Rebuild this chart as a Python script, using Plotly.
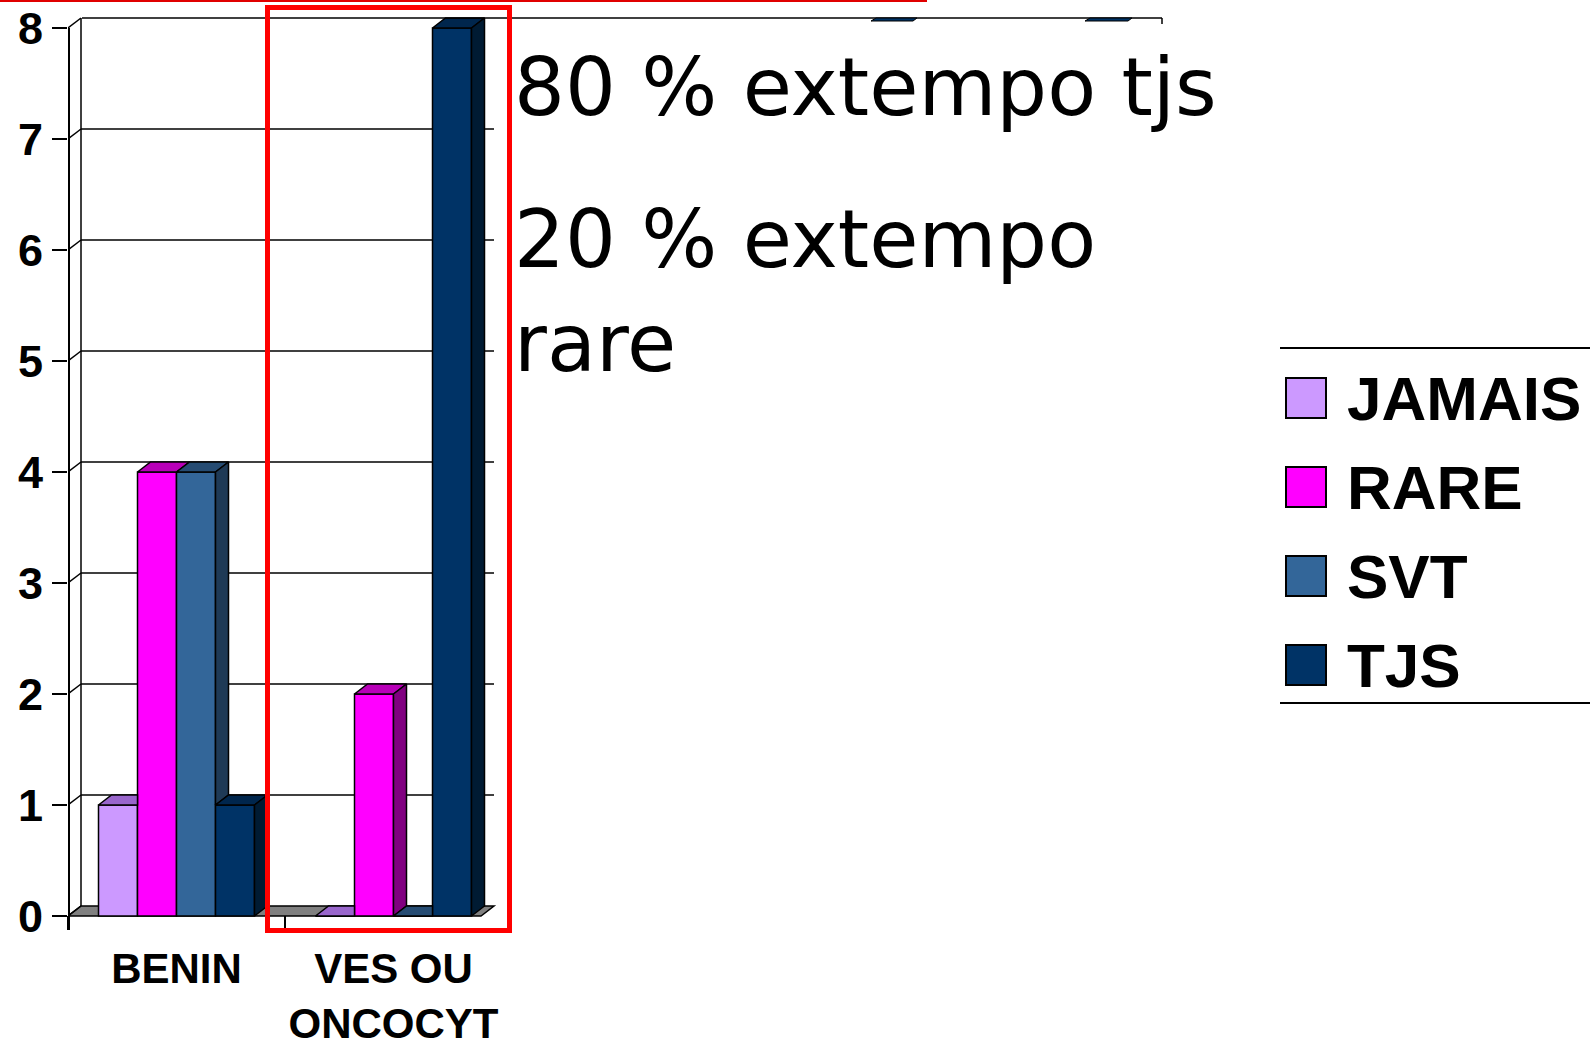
import plotly.graph_objects as go

# ---- data ----
categories = ["BENIN", "VES OU<br>ONCOCYT"]
series_names = ["JAMAIS", "RARE", "SVT", "TJS"]
jamais = [1, 0]
rare = [4, 2]
svt = [4, 0]
tjs = [1, 8]
y_ticks = [0, 1, 2, 3, 4, 5, 6, 7, 8]

note_tjs = "80 % extempo tjs"
note_rare = "20 % extempo<br>rare"

# colours per series: front face, top face, side face
front_colors = ["#CC99FF", "#FF00FF", "#336699", "#003366"]
top_colors = ["#9966CC", "#B800B8", "#264C73", "#00264D"]
side_colors = ["#664C88", "#800080", "#1F3A56", "#001B33"]

values = [jamais, rare, svt, tjs]

# ---- geometry (pixels of the 1590x1042 page) ----
W, H = 1590, 1042
L, R, T, B = 68, 520, 12, 930          # plot area
X_UNIT, Y_UNIT = 217.0, 111.0          # pixels per category / per unit
Y0_PX = 916                            # pixel row of value 0 (front)


def xd(px):
    return -0.5 + (px - L) / X_UNIT


def yd(py):
    return (Y0_PX - py) / Y_UNIT


def xp(px):
    return (px - L) / (R - L)


def yp(py):
    return (B - py) / (B - T)


DX = 13 / X_UNIT      # 3d depth, horizontal
DY = 10 / Y_UNIT      # 3d depth, vertical
BW = 39 / X_UNIT      # bar width
BACK_END = xd(494)    # right end of back wall
FLOOR_END = BACK_END - DX

fig = go.Figure()

# front faces
for j, name in enumerate(series_names):
    xs = [i + (j - 1.5) * BW for i in range(len(categories))]
    fig.add_trace(go.Bar(
        x=xs, y=values[j], width=BW, name=name,
        marker=dict(color=front_colors[j], line=dict(color="black", width=1.5)),
        showlegend=False, hoverinfo="skip",
    ))

# top and side faces (clipped where the next bar hides them)
for j in range(len(series_names)):
    tx, ty, sx, sy = [], [], [], []
    for i in range(len(categories)):
        h = values[j][i]
        c = i + (j - 1.5) * BW
        l, r = c - BW / 2, c + BW / 2
        h_next = values[j + 1][i] if j + 1 < len(series_names) else 0
        if j + 1 < len(series_names) and h_next > h:
            tx += [l, r, r, l + DX, l, None]
        else:
            tx += [l, r, r + DX, l + DX, l, None]
        ty += [h, h, h + DY, h + DY, h, None]
        if h > h_next or (j + 1 == len(series_names) and h > 0):
            sx += [r, r + DX, r + DX, r, r, None]
            sy += [h_next, h_next + DY, h + DY, h, h_next, None]
    fig.add_trace(go.Scatter(
        x=tx, y=ty, mode="lines", fill="toself", fillcolor=top_colors[j],
        line=dict(color="black", width=1.5), showlegend=False, hoverinfo="skip",
    ))
    if sx:
        fig.add_trace(go.Scatter(
            x=sx, y=sy, mode="lines", fill="toself", fillcolor=side_colors[j],
            line=dict(color="black", width=1.5), showlegend=False, hoverinfo="skip",
        ))

shapes = []
wall = dict(color="black", width=1.5)

# floor
shapes.append(dict(
    type="path", xref="x", yref="y", layer="below",
    path=f"M{-0.5},0 L{FLOOR_END},0 L{BACK_END},{DY} L{-0.5 + DX},{DY} Z",
    fillcolor="#808080", line=wall,
))
# back wall gridlines, left wall edges
for v in y_ticks:
    shapes.append(dict(type="line", xref="x", yref="y", layer="below",
                       x0=-0.5, y0=v, x1=-0.5 + DX, y1=v + DY, line=wall))
    if 0 < v < max(y_ticks):
        shapes.append(dict(type="line", xref="x", yref="y", layer="below",
                           x0=-0.5 + DX, y0=v + DY, x1=BACK_END, y1=v + DY, line=wall))
shapes.append(dict(type="line", xref="x", yref="y", layer="below",
                   x0=-0.5 + DX, y0=DY, x1=-0.5 + DX, y1=max(y_ticks) + DY, line=wall))
# front value axis line
shapes.append(dict(type="line", xref="x", yref="y", layer="above",
                   x0=-0.5 + 1 / X_UNIT, y0=yd(B), x1=-0.5 + 1 / X_UNIT, y1=max(y_ticks),
                   line=dict(color="black", width=2)))

# top gridline runs on past the chart on the slide
top_py = Y0_PX - (max(y_ticks) + DY) * Y_UNIT
shapes.append(dict(type="line", xref="paper", yref="paper",
                   x0=xp(82), y0=yp(top_py), x1=xp(1162), y1=yp(top_py), line=wall))
shapes.append(dict(type="line", xref="paper", yref="paper",
                   x0=xp(1162), y0=yp(top_py), x1=xp(1162), y1=yp(top_py + 6), line=wall))
for a, b in [(871, 917), (1085, 1132)]:
    shapes.append(dict(
        type="path", xref="paper", yref="paper",
        path=(f"M{xp(a)},{yp(21)} L{xp(b - 4)},{yp(21)} "
              f"L{xp(b)},{yp(top_py)} L{xp(a + 5)},{yp(top_py)} Z"),
        fillcolor="#003366", line=dict(color="black", width=1),
    ))

# red highlight box and red rule at the very top
shapes.append(dict(type="rect", xref="paper", yref="paper",
                   x0=xp(267.5), x1=xp(509.5), y0=yp(7.5), y1=yp(930.5),
                   line=dict(color="#FF0000", width=5)))
shapes.append(dict(type="line", xref="paper", yref="paper",
                   x0=xp(0), x1=xp(927), y0=yp(1), y1=yp(1),
                   line=dict(color="#E00000", width=2)))

# legend built by hand (big swatches)
shapes.append(dict(type="line", xref="paper", yref="paper",
                   x0=xp(1280), x1=xp(1590), y0=yp(348), y1=yp(348),
                   line=dict(color="black", width=2)))
shapes.append(dict(type="line", xref="paper", yref="paper",
                   x0=xp(1280), x1=xp(1590), y0=yp(703), y1=yp(703),
                   line=dict(color="black", width=2)))
annotations = []
legend_rows = [398, 487, 576, 665]
for j, name in enumerate(series_names):
    cy = legend_rows[j]
    shapes.append(dict(type="rect", xref="paper", yref="paper",
                       x0=xp(1286), x1=xp(1326), y0=yp(cy - 20), y1=yp(cy + 20),
                       fillcolor=front_colors[j], line=dict(color="black", width=2)))
    annotations.append(dict(
        xref="paper", yref="paper", x=xp(1345), y=yp(cy),
        xanchor="left", yanchor="middle", showarrow=False, text=name,
        font=dict(family="Arial, Liberation Sans", size=62, color="black", weight="bold"),
    ))

# the two notes typed on the slide
note_font = dict(family="Comic Sans MS, DejaVu Sans", size=80, color="black")
annotations.append(dict(xref="paper", yref="paper", x=xp(512), y=yp(87),
                        xanchor="left", yanchor="middle", showarrow=False,
                        text=note_tjs, font=note_font, align="left"))
annotations.append(dict(xref="paper", yref="paper", x=xp(512), y=yp(291),
                        xanchor="left", yanchor="middle", showarrow=False,
                        text=note_rare, font=note_font, align="left"))

fig.update_layout(
    width=W, height=H,
    margin=dict(l=L, r=W - R, t=T, b=H - B, pad=0, autoexpand=False),
    plot_bgcolor="white", paper_bgcolor="white",
    barmode="overlay", showlegend=False,
    shapes=shapes, annotations=annotations,
    xaxis=dict(
        range=[xd(L), xd(R)], tickvals=list(range(len(categories))), ticktext=categories,
        ticks="", showgrid=False, zeroline=False, showline=False, automargin=False,
        tickfont=dict(family="Arial, Liberation Sans", size=42, color="black", weight="bold"),
        ticklabelstandoff=10,
        minor=dict(tickvals=[-0.5, 0.5], ticks="inside", ticklen=14, tickwidth=2,
                   tickcolor="black", showgrid=False),
    ),
    yaxis=dict(
        range=[yd(B), yd(T)], tickvals=y_ticks, ticks="outside", ticklen=15,
        tickwidth=2, tickcolor="black", showgrid=False, zeroline=False, showline=False,
        automargin=False,
        tickfont=dict(family="Arial, Liberation Sans", size=45, color="black", weight="bold"),
        ticklabelstandoff=0,
    ),
)

# page margin off so the figure sits at the window's corner
fig.write_html("out.html", config={"displayModeBar": False},
               post_script="document.body.style.margin = '0px';")
